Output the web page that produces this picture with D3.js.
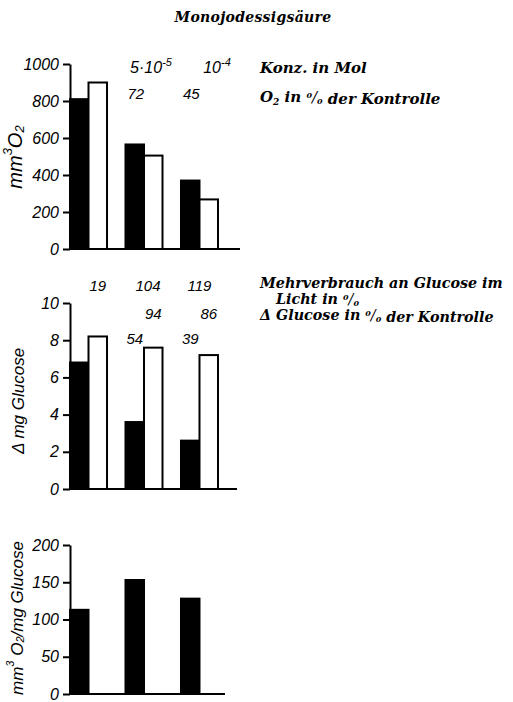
<!DOCTYPE html>
<html>
<head>
<meta charset="utf-8">
<script src="https://cdn.jsdelivr.net/npm/d3@7"></script>
<style>
  body { margin: 0; background: #fff; }
  .tick text, .num { font-family: "Liberation Sans", sans-serif; font-style: italic; }
  .serif { font-family: "DejaVu Serif", serif; font-style: italic; font-weight: bold; }
</style>
</head>
<body>
<svg id="chart" width="513" height="702"></svg>
<script>
// Groups: control, 5e-5 mol, 1e-4 mol
const groups = ["K", "5e-5", "1e-4"];

// Panel 1: mm3 O2 (dark / light)
const o2Dark = [810, 565, 370];
const o2Light = [900, 505, 268];
const o2Pct = [null, 72, 45];

// Panel 2: delta mg glucose (dark / light)
const glucDark = [6.8, 3.6, 2.6];
const glucLight = [8.2, 7.6, 7.2];
const mehrPct = [19, 104, 119];
const glucLightPct = [null, 94, 86];
const glucDarkPct = [null, 54, 39];

// Panel 3: mm3 O2 / mg glucose
const ratio = [113, 153, 128];

const ticks1 = [0, 200, 400, 600, 800, 1000];
const ticks2 = [0, 2, 4, 6, 8, 10];
const ticks3 = [0, 50, 100, 150, 200];

const svg = d3.select("#chart");
const axisX = 70;

// shared x scales
const x = d3.scaleBand().domain(groups).range([axisX, 218]).paddingInner(0.333).paddingOuter(0);
const xs = d3.scaleBand().domain(["dark", "light"]).range([0, x.bandwidth()]).padding(0);

function drawPanel(y, ticks, series, baseEnd) {
    const g = svg.append("g");
    // bars
    series.forEach(s => {
        g.selectAll(null)
            .data(s.values)
            .enter()
            .append("rect")
            .attr("x", (d, i) => x(groups[i]) + xs(s.key))
            .attr("y", d => y(d))
            .attr("width", xs.bandwidth())
            .attr("height", d => y(0) - y(d))
            .attr("fill", s.key == "dark" ? "#000" : "#fff")
            .attr("stroke", "#000")
            .attr("stroke-width", 2);
    });
    // y axis
    const ax = g.append("g")
        .attr("transform", `translate(${axisX},0)`)
        .call(d3.axisLeft(y).tickValues(ticks).tickFormat(d3.format("d"))
            .tickSize(7).tickSizeOuter(0).tickPadding(4));
    ax.select(".domain").attr("stroke-width", 2);
    ax.selectAll(".tick line").attr("stroke-width", 2);
    ax.selectAll(".tick text").style("font-size", "16px").attr("fill", "#000");
    // baseline
    g.append("line")
        .attr("x1", axisX).attr("x2", baseEnd)
        .attr("y1", y(0)).attr("y2", y(0))
        .attr("stroke", "#000").attr("stroke-width", 2);
    return g;
}

function numLabel(g, txt, cx, cy) {
    return g.append("text").attr("class", "num")
        .attr("x", cx).attr("y", cy)
        .attr("text-anchor", "middle")
        .attr("dominant-baseline", "central")
        .style("font-size", "15px")
        .text(txt);
}

function barCenter(i, key) { return x(groups[i]) + xs(key) + xs.bandwidth() / 2; }

// append "0/0" percent sign as tspans
function pct(t) {
    t.append("tspan").attr("dy", -4).style("font-size", "8px").text("0");
    t.append("tspan").attr("dy", 4).style("font-weight", "normal").text("/");
    t.append("tspan").attr("dy", 2).style("font-size", "8px").text("0");
    t.append("tspan").attr("dy", -2).text("");
}

// title
svg.append("text").attr("class", "serif")
    .attr("x", 253).attr("y", 22)
    .attr("text-anchor", "middle")
    .style("font-size", "14px").style("letter-spacing", "0.3px")
    .text("Monojodessigsäure");

// ---- Panel 1
const y1 = d3.scaleLinear().domain([0, 1000]).range([249, 64]);
const p1 = drawPanel(y1, ticks1, [{key: "dark", values: o2Dark}, {key: "light", values: o2Light}], 240);

let t = p1.append("text").attr("class", "num").attr("x", 151).attr("y", 73)
    .attr("text-anchor", "middle").style("font-size", "16px");
t.append("tspan").text("5·10");
t.append("tspan").attr("dy", -7).style("font-size", "11px").text("-5");
t = p1.append("text").attr("class", "num").attr("x", 217).attr("y", 73)
    .attr("text-anchor", "middle").style("font-size", "16px");
t.append("tspan").text("10");
t.append("tspan").attr("dy", -7).style("font-size", "11px").text("-4");

o2Pct.forEach((v, i) => { if (v != null) numLabel(p1, v, barCenter(i, "dark") + 1, 93); });

p1.append("text").attr("x", 15).attr("y", 157)
    .attr("transform", "rotate(-90,15,157)")
    .attr("text-anchor", "middle").attr("dominant-baseline", "central")
    .attr("class", "num").style("font-size", "20px")
    .call(s => {
        s.append("tspan").text("mm");
        s.append("tspan").attr("dy", -8).style("font-size", "13px").text("3");
        s.append("tspan").attr("dy", 8).text("O");
        s.append("tspan").attr("dy", 4).style("font-size", "13px").text("2");
    });

svg.append("text").attr("class", "serif").attr("x", 260).attr("y", 73)
    .style("font-size", "15px").text("Konz. in Mol");
let r2 = svg.append("text").attr("class", "serif").attr("x", 260).attr("y", 102).style("font-size", "15px");
r2.append("tspan").text("O");
r2.append("tspan").attr("dy", 3).style("font-size", "9px").text("2");
r2.append("tspan").attr("dy", -3).text(" in ");
pct(r2);
r2.append("tspan").text(" der Kontrolle");

// ---- Panel 2
const y2 = d3.scaleLinear().domain([0, 10]).range([489, 303]);
const p2 = drawPanel(y2, ticks2, [{key: "dark", values: glucDark}, {key: "light", values: glucLight}], 237);

mehrPct.forEach((v, i) => {
    const cx = i == 0 ? barCenter(i, "light") : x(groups[i]) + x.bandwidth() / 2 + (i == 1 ? 4 : 0);
    numLabel(p2, v, cx, 285);
});
glucLightPct.forEach((v, i) => { if (v != null) numLabel(p2, v, barCenter(i, "light"), 313); });
glucDarkPct.forEach((v, i) => { if (v != null) numLabel(p2, v, barCenter(i, "dark"), 338); });

p2.append("text").attr("class", "num").attr("x", 18).attr("y", 401)
    .attr("transform", "rotate(-90,18,401)")
    .attr("text-anchor", "middle").attr("dominant-baseline", "central")
    .style("font-size", "17px")
    .text("Δ mg Glucose");

svg.append("text").attr("class", "serif").attr("x", 260).attr("y", 288)
    .style("font-size", "14.3px").text("Mehrverbrauch an Glucose im");
let r4 = svg.append("text").attr("class", "serif").attr("x", 276).attr("y", 304).style("font-size", "14.3px");
r4.append("tspan").text("Licht in ");
pct(r4);
let r3 = svg.append("text").attr("class", "serif").attr("x", 260).attr("y", 320).style("font-size", "14.3px");
r3.append("tspan").text("Δ Glucose in ");
pct(r3);
r3.append("tspan").text(" der Kontrolle");

// ---- Panel 3
const y3 = d3.scaleLinear().domain([0, 200]).range([694, 545]);
const p3 = drawPanel(y3, ticks3, [{key: "dark", values: ratio}], 225);

p3.append("text").attr("x", 17).attr("y", 618)
    .attr("transform", "rotate(-90,17,618)")
    .attr("text-anchor", "middle").attr("dominant-baseline", "central")
    .attr("class", "num").style("font-size", "17px")
    .call(s => {
        s.append("tspan").text("mm");
        s.append("tspan").attr("dy", -7).style("font-size", "11px").text("3");
        s.append("tspan").attr("dy", 7).text(" O");
        s.append("tspan").attr("dy", 3).style("font-size", "11px").text("2");
        s.append("tspan").attr("dy", -3).text("/mg Glucose");
    });
</script>
</body>
</html>
